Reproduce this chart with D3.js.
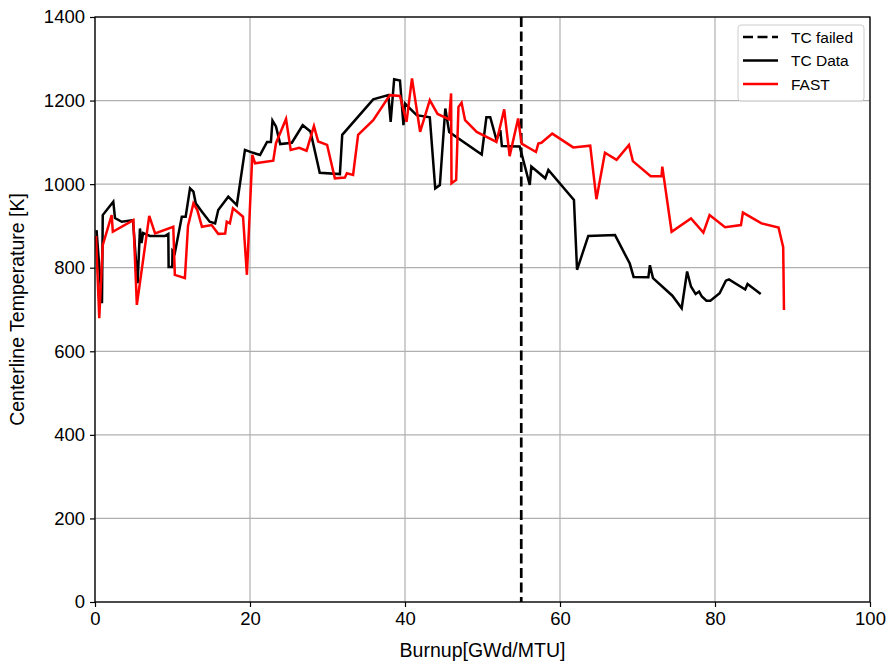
<!DOCTYPE html>
<html><head><meta charset="utf-8">
<script src="https://cdn.jsdelivr.net/npm/d3@7"></script>
<style>body{margin:0;background:#fff}text{font-family:"Liberation Sans",Arial,sans-serif}</style>
</head><body><svg id="c" width="893" height="662"></svg>
<script>
const tcBurnup = [0.2,0.9,1.0,2.36,2.58,3.45,4.9,5.5,5.8,6.0,6.2,7.1,9.0,9.46,9.5,9.97,10.0,10.3,11.2,11.7,12.26,12.7,13.0,13.8,14.8,15.5,15.9,17.2,18.3,19.35,20.4,21.3,22.2,22.7,22.9,23.35,23.9,25.4,26.8,27.8,29.0,31.6,31.9,35.9,37.85,38.15,38.6,39.35,39.8,40.0,41.5,43.2,43.9,44.5,45.2,45.7,49.9,50.5,51.0,51.8,52.3,52.5,54.8,56.1,56.3,58.1,58.5,61.8,62.2,63.65,67.1,69.0,69.5,71.4,71.6,72.0,74.5,75.7,76.4,76.9,77.5,77.95,78.3,78.9,79.4,80.6,81.4,81.8,83.9,84.2,85.9];
const tcTemp = [890,715,926,958,919,910,914,763,894,859,883,876,876,881,802,802,841,835,922,922,990,982,954,934,910,906,938,970,950,1082,1075,1070,1101,1101,1152,1138,1096,1099,1141,1126,1027,1024,1118,1203,1213,1149,1251,1248,1141,1193,1165,1160,990,998,1181,1125,1071,1160,1160,1106,1129,1091,1090,998,1042,1014,1034,962,795,876,878,810,778,777,806,775,733,703,791,755,737,743,731,721,721,739,769,772,748,761,737];
const fastBurnup = [0.13,0.55,1.0,2.15,2.3,4.95,5.4,7.0,7.75,10.1,10.3,11.6,12.0,12.7,13.2,13.8,15.05,15.9,16.8,17.0,17.4,17.8,19.1,19.6,20.3,20.65,23.0,23.35,24.65,25.25,26.35,27.3,28.25,28.8,29.95,30.95,32.25,32.5,33.3,33.95,35.9,38.05,39.35,40.2,40.9,41.95,43.2,44.2,45.7,45.95,46.0,46.6,46.9,47.3,47.75,49.25,51.8,52.8,53.5,54.6,55.05,56.9,57.2,57.6,59.0,61.7,63.9,64.7,65.8,67.3,68.9,69.4,71.7,73.1,73.2,74.4,76.9,78.5,79.3,81.3,83.35,83.6,86.0,88.2,88.8,88.9];
const fastTemp = [876,679,854,926,886,914,711,924,882,898,783,775,900,954,938,898,902,881,882,910,906,942,922,783,1070,1050,1056,1098,1156,1082,1087,1080,1139,1102,1094,1014,1016,1026,1022,1118,1153,1213,1211,1149,1253,1125,1201,1168,1155,1217,1002,1010,1185,1195,1153,1125,1101,1179,1067,1157,1097,1077,1097,1099,1121,1088,1092,964,1075,1058,1094,1055,1019,1019,1042,886,918,884,926,897,902,932,906,896,849,699];
const tcFailedBurnup = 55;
const xTicks = [0,20,40,60,80,100];
const yTicks = [0,200,400,600,800,1000,1200,1400];
const seriesNames = ["TC failed","TC Data","FAST"];

const svg = d3.select("#c");
const L=95,R=870,T=17,B=602;
const x = d3.scaleLinear().domain([0,100]).range([L,R]);
const y = d3.scaleLinear().domain([0,1400]).range([B,T]);

const g = svg.append("g");
g.selectAll(".gx").data(xTicks).enter().append("line")
 .attr("x1",d=>x(d)).attr("x2",d=>x(d)).attr("y1",T).attr("y2",B)
 .attr("stroke","#b0b0b0").attr("stroke-width",1.2);
g.selectAll(".gy").data(yTicks).enter().append("line")
 .attr("y1",d=>y(d)).attr("y2",d=>y(d)).attr("x1",L).attr("x2",R)
 .attr("stroke","#b0b0b0").attr("stroke-width",1.2);

const line = d3.line().x(d=>x(d[0])).y(d=>y(d[1]));
const tcData = tcBurnup.map((b,i)=>[b,tcTemp[i]]);
const fastData = fastBurnup.map((b,i)=>[b,fastTemp[i]]);

svg.append("line").attr("x1",x(tcFailedBurnup)).attr("x2",x(tcFailedBurnup))
 .attr("y1",T).attr("y2",B).attr("stroke","#000").attr("stroke-width",2.7)
 .attr("stroke-dasharray","10,4.5");
svg.append("path").datum(tcData).attr("d",line).attr("fill","none")
 .attr("stroke","#000").attr("stroke-width",2.5).attr("stroke-linejoin","miter");
svg.append("path").datum(fastData).attr("d",line).attr("fill","none")
 .attr("stroke","#ff0000").attr("stroke-width",2.5).attr("stroke-linejoin","miter");

const xa = svg.append("g").attr("transform",`translate(0,${B})`)
 .call(d3.axisBottom(x).tickValues(xTicks).tickSize(5).tickPadding(5).tickFormat(d3.format("d")));
const ya = svg.append("g").attr("transform",`translate(${L},0)`)
 .call(d3.axisLeft(y).tickValues(yTicks).tickSize(5).tickPadding(5).tickFormat(d3.format("d")));
[xa,ya].forEach(a=>{a.select(".domain").remove();
 a.selectAll("text").attr("font-size",18.5).attr("fill","#000").attr("font-family","Liberation Sans, Arial, sans-serif");
 a.selectAll("line").attr("stroke","#000").attr("stroke-width",1.2);});
svg.append("rect").attr("x",L).attr("y",T).attr("width",R-L).attr("height",B-T)
 .attr("fill","none").attr("stroke","#000").attr("stroke-width",1.3);

svg.append("text").attr("x",(L+R)/2).attr("y",657).attr("text-anchor","middle")
 .attr("font-size",19.5).text("Burnup[GWd/MTU]");
svg.append("text").attr("transform",`translate(24,${(T+B)/2}) rotate(-90)`).attr("text-anchor","middle")
 .attr("font-size",19.5).text("Centerline Temperature [K]");

const lg = svg.append("g");
lg.append("rect").attr("x",738).attr("y",25).attr("width",126).attr("height",76).attr("rx",3)
 .attr("fill","#fff").attr("fill-opacity",0.8).attr("stroke","#cccccc").attr("stroke-width",1);
const styles=[{c:"#000",d:"10,4.5"},{c:"#000",d:null},{c:"#ff0000",d:null}];
seriesNames.forEach((n,i)=>{
 const yy = 37+i*23.5;
 lg.append("line").attr("x1",743).attr("x2",778).attr("y1",yy).attr("y2",yy)
  .attr("stroke",styles[i].c).attr("stroke-width",2.5).attr("stroke-dasharray",styles[i].d);
 lg.append("text").attr("x",791).attr("y",yy+5.5).attr("font-size",15.5).text(n);
});
</script></body></html>
